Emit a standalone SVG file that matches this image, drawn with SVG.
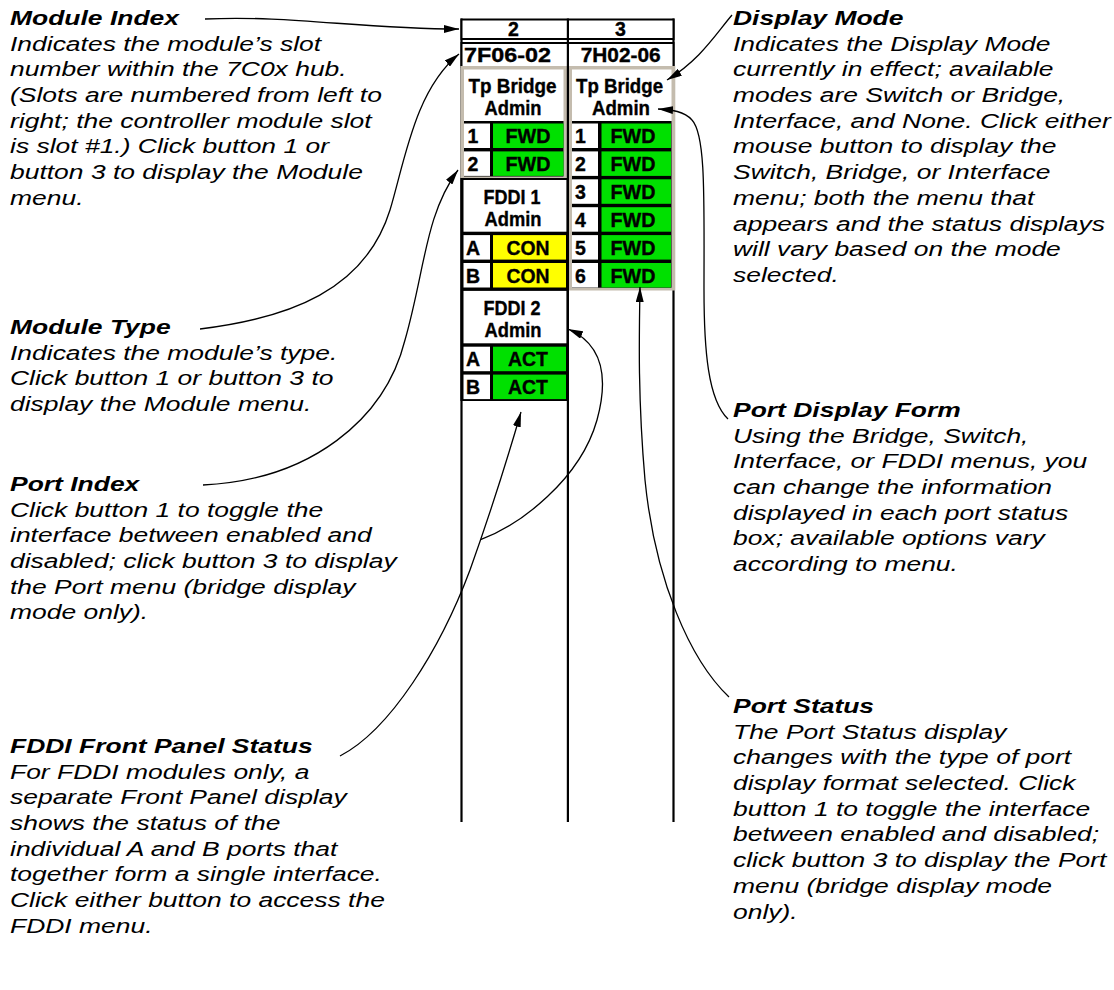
<svg xmlns="http://www.w3.org/2000/svg" width="1114" height="990" viewBox="0 0 1114 990">
<defs>
<style>
.h{font-family:"Liberation Sans",Arial,sans-serif;font-size:21px;font-weight:bold;font-style:italic;fill:#000}
.b{font-family:"Liberation Sans",Arial,sans-serif;font-size:21px;font-style:italic;fill:#000}
.p{font-family:"Liberation Sans",Arial,sans-serif;font-size:19.5px;font-weight:bold;fill:#000;stroke:#000;stroke-width:0.35;text-anchor:middle}
.c{fill:none;stroke:#000;stroke-width:1.3;marker-end:url(#ah)}
.vl{stroke:#000;stroke-width:2.2}
.gr{fill:#c4bcae}
.w{fill:#fff}
.g{fill:#00e000}
.y{fill:#ffff00}
.k{fill:#000}
</style>
<marker id="ah" markerWidth="16" markerHeight="8" refX="15" refY="4" orient="auto" markerUnits="userSpaceOnUse"><path d="M0,0 L15,4 L0,8 z" fill="#000"/></marker>
</defs>
<rect x="0" y="0" width="1114" height="990" fill="#fff"/>

<g id="panel">
<line class="vl" x1="461.5" y1="18.5" x2="461.5" y2="822"/>
<line class="vl" x1="673.5" y1="18.5" x2="673.5" y2="822"/>
<rect x="461.5" y="19.5" width="212" height="19.5" fill="#fff" stroke="#000" stroke-width="2"/>
<rect x="461.5" y="43" width="212" height="24" fill="#fff" stroke="#000" stroke-width="2"/>
</g>

<g id="module-2">
<text class="p" x="513.5" y="36">2</text>
<text class="p" x="507.5" y="61.5" textLength="87" lengthAdjust="spacingAndGlyphs">7F06-02</text>
<rect class="gr" x="460.4" y="66" width="106.6" height="112"/>
<rect class="w" x="464" y="69.5" width="99.5" height="51.5"/>
<rect class="k" x="464" y="121" width="99.5" height="55.5"/>
<rect class="w" x="464" y="123.5" width="26" height="24.5"/>
<rect class="g" x="493" y="123.5" width="70.5" height="24.5"/>
<rect class="w" x="464" y="151.4" width="26" height="24.5"/>
<rect class="g" x="493" y="151.4" width="70.5" height="24.5"/>
<text class="p" x="512.5" y="93" textLength="88" lengthAdjust="spacingAndGlyphs">Tp Bridge</text>
<text class="p" x="513" y="114.5" textLength="57" lengthAdjust="spacingAndGlyphs">Admin</text>
<text class="p" x="473" y="143">1</text>
<text class="p" x="528" y="143" textLength="45" lengthAdjust="spacingAndGlyphs">FWD</text>
<text class="p" x="473" y="170.9">2</text>
<text class="p" x="528" y="170.9" textLength="45" lengthAdjust="spacingAndGlyphs">FWD</text>
<rect class="k" x="460.4" y="178" width="107.6" height="223"/>
<rect class="w" x="463.5" y="180" width="103" height="51.7"/>
<rect class="w" x="463.5" y="235.1" width="26.5" height="24.5"/>
<rect class="y" x="493" y="235.1" width="73" height="24.5"/>
<rect class="w" x="463.5" y="263" width="26.5" height="24.5"/>
<rect class="y" x="493" y="263" width="73" height="24.5"/>
<rect class="w" x="463.5" y="290.9" width="103" height="52.4"/>
<rect class="w" x="463.5" y="346.7" width="26.5" height="24.5"/>
<rect class="g" x="493" y="346.7" width="73" height="24.5"/>
<rect class="w" x="463.5" y="374.6" width="26.5" height="24.5"/>
<rect class="g" x="493" y="374.6" width="73" height="24.5"/>
<text class="p" x="512" y="203.5" textLength="57" lengthAdjust="spacingAndGlyphs">FDDI 1</text>
<text class="p" x="513" y="225.5" textLength="57" lengthAdjust="spacingAndGlyphs">Admin</text>
<text class="p" x="473" y="254.6">A</text>
<text class="p" x="528" y="254.6" textLength="43" lengthAdjust="spacingAndGlyphs">CON</text>
<text class="p" x="473" y="282.5">B</text>
<text class="p" x="528" y="282.5" textLength="43" lengthAdjust="spacingAndGlyphs">CON</text>
<text class="p" x="512" y="315" textLength="57" lengthAdjust="spacingAndGlyphs">FDDI 2</text>
<text class="p" x="513" y="336.5" textLength="57" lengthAdjust="spacingAndGlyphs">Admin</text>
<text class="p" x="473" y="366.2">A</text>
<text class="p" x="528" y="366.2" textLength="40" lengthAdjust="spacingAndGlyphs">ACT</text>
<text class="p" x="473" y="394.1">B</text>
<text class="p" x="528" y="394.1" textLength="40" lengthAdjust="spacingAndGlyphs">ACT</text>
</g>

<g id="module-3">
<text class="p" x="620.5" y="36">3</text>
<text class="p" x="620.7" y="61.5" textLength="80" lengthAdjust="spacingAndGlyphs">7H02-06</text>
<rect class="gr" x="569" y="66" width="106.3" height="224.5"/>
<rect class="w" x="572" y="69.5" width="99.5" height="51.5"/>
<rect class="k" x="572" y="121" width="99.5" height="166.7"/>
<rect class="w" x="572" y="123.5" width="26" height="24.5"/>
<rect class="g" x="601.5" y="123.5" width="69.5" height="24.5"/>
<rect class="w" x="572" y="151.4" width="26" height="24.5"/>
<rect class="g" x="601.5" y="151.4" width="69.5" height="24.5"/>
<rect class="w" x="572" y="179.3" width="26" height="24.5"/>
<rect class="g" x="601.5" y="179.3" width="69.5" height="24.5"/>
<rect class="w" x="572" y="207.2" width="26" height="24.5"/>
<rect class="g" x="601.5" y="207.2" width="69.5" height="24.5"/>
<rect class="w" x="572" y="235.1" width="26" height="24.5"/>
<rect class="g" x="601.5" y="235.1" width="69.5" height="24.5"/>
<rect class="w" x="572" y="263" width="26" height="24.5"/>
<rect class="g" x="601.5" y="263" width="69.5" height="24.5"/>
<text class="p" x="619.5" y="93" textLength="87" lengthAdjust="spacingAndGlyphs">Tp Bridge</text>
<text class="p" x="621" y="114.5" textLength="58" lengthAdjust="spacingAndGlyphs">Admin</text>
<text class="p" x="580.5" y="143">1</text>
<text class="p" x="633" y="143" textLength="45" lengthAdjust="spacingAndGlyphs">FWD</text>
<text class="p" x="580.5" y="170.9">2</text>
<text class="p" x="633" y="170.9" textLength="45" lengthAdjust="spacingAndGlyphs">FWD</text>
<text class="p" x="580.5" y="198.8">3</text>
<text class="p" x="633" y="198.8" textLength="45" lengthAdjust="spacingAndGlyphs">FWD</text>
<text class="p" x="580.5" y="226.7">4</text>
<text class="p" x="633" y="226.7" textLength="45" lengthAdjust="spacingAndGlyphs">FWD</text>
<text class="p" x="580.5" y="254.6">5</text>
<text class="p" x="633" y="254.6" textLength="45" lengthAdjust="spacingAndGlyphs">FWD</text>
<text class="p" x="580.5" y="282.5">6</text>
<text class="p" x="633" y="282.5" textLength="45" lengthAdjust="spacingAndGlyphs">FWD</text>
</g>

<g id="divider">
<line class="vl" x1="567.9" y1="18.5" x2="567.9" y2="822"/>
</g>

<g id="connectors">
<path class="c" d="M205,19 C290,15 360,29 459,29"/>
<path class="c" d="M200,329 C290,318 365,290 390,210 C405,160 415,90 459,54"/>
<path class="c" d="M203,485 C310,480 385,420 405,340 C425,270 425,215 458,170"/>
<path class="c" d="M340,756 C390,730 440,650 470,570 C495,500 510,450 521,412"/>
<path class="c" d="M480.6,539.7 C520,525 580,480 597,420 C608,380 605,345 568,329"/>
<path class="c" d="M732,15 C715,35 700,60 667,80"/>
<path class="c" d="M728,419 C708,400 704,350 704,290 C704,200 706,135 692,120 C684,111 672,110 658,109"/>
<path class="c" d="M729,697 C690,660 655,580 645,480 C638,400 639,340 640,287"/>
</g>

<g id="note-module-index" transform="translate(10,0) scale(1.26,1)">
<text class="h" x="0" y="25">Module Index</text>
<text class="b" x="0" y="50.7">Indicates the module’s slot</text>
<text class="b" x="0" y="76.4">number within the 7C0x hub.</text>
<text class="b" x="0" y="102.1">(Slots are numbered from left to</text>
<text class="b" x="0" y="127.8">right; the controller module slot</text>
<text class="b" x="0" y="153.5">is slot #1.) Click button 1 or</text>
<text class="b" x="0" y="179.2">button 3 to display the Module</text>
<text class="b" x="0" y="204.9">menu.</text>
</g>

<g id="note-module-type" transform="translate(10,0) scale(1.26,1)">
<text class="h" x="0" y="334">Module Type</text>
<text class="b" x="0" y="359.7">Indicates the module’s type.</text>
<text class="b" x="0" y="385.4">Click button 1 or button 3 to</text>
<text class="b" x="0" y="411.1">display the Module menu.</text>
</g>

<g id="note-port-index" transform="translate(10,0) scale(1.26,1)">
<text class="h" x="0" y="491">Port Index</text>
<text class="b" x="0" y="516.7">Click button 1 to toggle the</text>
<text class="b" x="0" y="542.4">interface between enabled and</text>
<text class="b" x="0" y="568.1">disabled; click button 3 to display</text>
<text class="b" x="0" y="593.8">the Port menu (bridge display</text>
<text class="b" x="0" y="619.5">mode only).</text>
</g>

<g id="note-fddi-status" transform="translate(10,0) scale(1.26,1)">
<text class="h" x="0" y="753">FDDI Front Panel Status</text>
<text class="b" x="0" y="778.7">For FDDI modules only, a</text>
<text class="b" x="0" y="804.4">separate Front Panel display</text>
<text class="b" x="0" y="830.1">shows the status of the</text>
<text class="b" x="0" y="855.8">individual A and B ports that</text>
<text class="b" x="0" y="881.5">together form a single interface.</text>
<text class="b" x="0" y="907.2">Click either button to access the</text>
<text class="b" x="0" y="932.9">FDDI menu.</text>
</g>

<g id="note-display-mode" transform="translate(733,0) scale(1.26,1)">
<text class="h" x="0" y="25">Display Mode</text>
<text class="b" x="0" y="50.7">Indicates the Display Mode</text>
<text class="b" x="0" y="76.4">currently in effect; available</text>
<text class="b" x="0" y="102.1">modes are Switch or Bridge,</text>
<text class="b" x="0" y="127.8">Interface, and None. Click either</text>
<text class="b" x="0" y="153.5">mouse button to display the</text>
<text class="b" x="0" y="179.2">Switch, Bridge, or Interface</text>
<text class="b" x="0" y="204.9">menu; both the menu that</text>
<text class="b" x="0" y="230.6">appears and the status displays</text>
<text class="b" x="0" y="256.3">will vary based on the mode</text>
<text class="b" x="0" y="282">selected.</text>
</g>

<g id="note-port-display-form" transform="translate(733,0) scale(1.26,1)">
<text class="h" x="0" y="417">Port Display Form</text>
<text class="b" x="0" y="442.7">Using the Bridge, Switch,</text>
<text class="b" x="0" y="468.4">Interface, or FDDI menus, you</text>
<text class="b" x="0" y="494.1">can change the information</text>
<text class="b" x="0" y="519.8">displayed in each port status</text>
<text class="b" x="0" y="545.5">box; available options vary</text>
<text class="b" x="0" y="571.2">according to menu.</text>
</g>

<g id="note-port-status" transform="translate(733,0) scale(1.26,1)">
<text class="h" x="0" y="713">Port Status</text>
<text class="b" x="0" y="738.7">The Port Status display</text>
<text class="b" x="0" y="764.4">changes with the type of port</text>
<text class="b" x="0" y="790.1">display format selected. Click</text>
<text class="b" x="0" y="815.8">button 1 to toggle the interface</text>
<text class="b" x="0" y="841.5">between enabled and disabled;</text>
<text class="b" x="0" y="867.2">click button 3 to display the Port</text>
<text class="b" x="0" y="892.9">menu (bridge display mode</text>
<text class="b" x="0" y="918.6">only).</text>
</g>
</svg>
